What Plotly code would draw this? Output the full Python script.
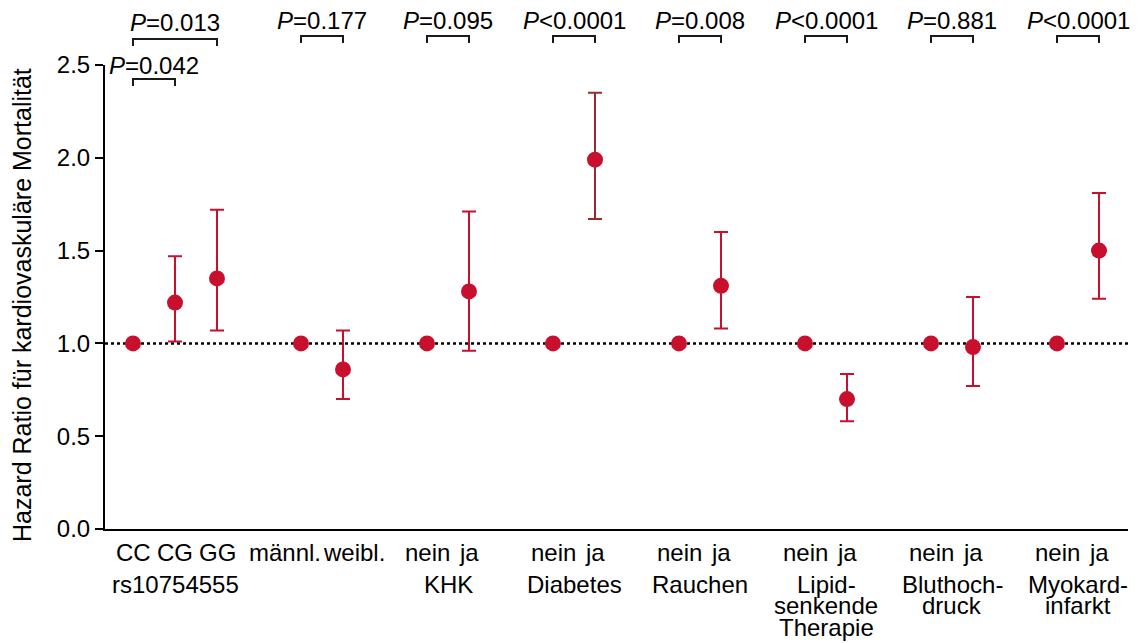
import plotly.graph_objects as go

# ---------------- data ----------------
group_names = ["rs10754555", "", "KHK", "Diabetes", "Rauchen",
               ["Lipid-", "senkende", "Therapie"], ["Bluthoch-", "druck"], ["Myokard-", "infarkt"]]
group_levels = [["CC", "CG", "GG"], ["männl.", "weibl."], ["nein", "ja"], ["nein", "ja"],
                ["nein", "ja"], ["nein", "ja"], ["nein", "ja"], ["nein", "ja"]]
# hazard ratios per level (first level of every group = reference, HR 1.0)
hr = [[1.0, 1.22, 1.35], [1.0, 0.86], [1.0, 1.28], [1.0, 1.99], [1.0, 1.31],
      [1.0, 0.70], [1.0, 0.98], [1.0, 1.50]]
ci_low = [[None, 1.01, 1.07], [None, 0.70], [None, 0.96], [None, 1.67], [None, 1.08],
          [None, 0.58], [None, 0.77], [None, 1.24]]
ci_high = [[None, 1.47, 1.72], [None, 1.07], [None, 1.71], [None, 2.35], [None, 1.60],
           [None, 0.835], [None, 1.25], [None, 1.81]]
# p-value brackets: (group index, level a, level b, label)
p_brackets = [(0, 0, 2, "=0.013"), (0, 0, 1, "=0.042"), (1, 0, 1, "=0.177"), (2, 0, 1, "=0.095"),
              (3, 0, 1, "<0.0001"), (4, 0, 1, "=0.008"), (5, 0, 1, "<0.0001"),
              (6, 0, 1, "=0.881"), (7, 0, 1, "<0.0001")]
y_ticks = [0.0, 0.5, 1.0, 1.5, 2.0, 2.5]
y_title = "Hazard Ratio für kardiovaskuläre Mortalität"

# ---------------- layout helpers ----------------
RED = "#c8102e"
DARK = "#9a2a30"
FONT = "Liberation Sans, Arial, Helvetica, sans-serif"
FS = 24
W, H = 1141, 643
ML, MR, MT, MB = 105, 13, 65, 114
PH = H - MT - MB

def ypaper(px):
    return (H - MB - px) / PH

# positions: one empty slot between groups
pos = []
cur = 0
for lv in group_levels:
    pos.append([cur + i for i in range(len(lv))])
    cur += len(lv) + 1

fig = go.Figure()

ref_x, ref_y = [], []
eff_x, eff_y, eff_up, eff_dn = [], [], [], []
for g in range(len(group_levels)):
    for i in range(len(group_levels[g])):
        if ci_low[g][i] is None:
            ref_x.append(pos[g][i]); ref_y.append(hr[g][i])
        elif group_names[g] == "Diabetes":
            pass
        else:
            eff_x.append(pos[g][i]); eff_y.append(hr[g][i])
            eff_up.append(ci_high[g][i] - hr[g][i]); eff_dn.append(hr[g][i] - ci_low[g][i])

# dotted reference line at HR = 1
fig.add_shape(type="line", xref="paper", yref="y", x0=0, x1=1, y0=1.0, y1=1.0,
              line=dict(color="black", width=2.5, dash="dot"), layer="below")

fig.add_trace(go.Scatter(x=eff_x, y=eff_y, mode="markers",
                         marker=dict(color=RED, size=16),
                         error_y=dict(type="data", symmetric=False, array=eff_up, arrayminus=eff_dn,
                                      color=RED, thickness=2, width=7),
                         showlegend=False))
# Diabetes (darker bar)
gi = group_names.index("Diabetes")
fig.add_trace(go.Scatter(x=[pos[gi][1]], y=[hr[gi][1]], mode="markers",
                         marker=dict(color=RED, size=16),
                         error_y=dict(type="data", symmetric=False,
                                      array=[ci_high[gi][1] - hr[gi][1]],
                                      arrayminus=[hr[gi][1] - ci_low[gi][1]],
                                      color=DARK, thickness=2, width=7),
                         showlegend=False))
fig.add_trace(go.Scatter(x=ref_x, y=ref_y, mode="markers",
                         marker=dict(color=RED, size=16), showlegend=False))

ann = []
# x labels
row1 = ypaper(552)
for g, lv in enumerate(group_levels):
    if len(lv) == 2 and g == 1:
        mid = (pos[g][0] + pos[g][1]) / 2
        ann.append(dict(x=mid + 0.02, y=row1, text=lv[0], xanchor="right"))
        ann.append(dict(x=mid - 0.02, y=row1, text=lv[1], xanchor="left"))
    else:
        for i, t in enumerate(lv):
            ann.append(dict(x=pos[g][i], y=row1, text=t, xanchor="center"))
    name = group_names[g]
    lines = name if isinstance(name, list) else [name]
    cx = (pos[g][0] + pos[g][-1]) / 2
    for j, t in enumerate(lines):
        if t:
            ann.append(dict(x=cx, y=ypaper(584 + 21.5 * j), text=t, xanchor="center"))

# p-value brackets
for g, a, b, lab in p_brackets:
    xa, xb = pos[g][a], pos[g][b]
    if g == 0 and b == 2:
        top, txt = 39, 22
    elif g == 0:
        top, txt = 79, 65
    else:
        top, txt = 36, 21
    y0, y1 = ypaper(top), ypaper(top + 7)
    fig.add_shape(type="path", xref="x", yref="paper",
                  path=f"M {xa},{y1} L {xa},{y0} L {xb},{y0} L {xb},{y1}",
                  line=dict(color="#1a1a1a", width=2))
    ann.append(dict(x=(xa + xb) / 2, y=ypaper(txt), text=f"<i>P</i>{lab}", xanchor="center"))

for a in ann:
    a.update(xref="x", yref="paper", yanchor="middle", showarrow=False,
             font=dict(family=FONT, size=FS, color="black"))

ann.append(dict(x=(22 - ML) / (W - ML - MR), y=ypaper(305), xref="paper", yref="paper",
                text=y_title, textangle=-90, showarrow=False, xanchor="center", yanchor="middle",
                font=dict(family=FONT, size=25, color="black")))

unit = 42.0
x_lo = -(133 - ML) / unit
x_hi = x_lo + (W - ML - MR) / unit

fig.update_layout(
    width=W, height=H,
    margin=dict(l=ML, r=MR, t=MT, b=MB),
    plot_bgcolor="white", paper_bgcolor="white",
    annotations=ann,
    xaxis=dict(range=[x_lo, x_hi], showgrid=False, zeroline=False, showticklabels=False,
               ticks="", showline=True, linecolor="black", linewidth=2),
    yaxis=dict(range=[0, 2.5], tickvals=y_ticks, ticktext=[f"{v:.1f}" for v in y_ticks],
               showgrid=False, zeroline=False, ticks="outside", ticklen=8, tickwidth=2,
               tickcolor="black", showline=True, linecolor="black", linewidth=2,
               tickfont=dict(family=FONT, size=FS, color="black")),
)

fig.write_html("out.html")
